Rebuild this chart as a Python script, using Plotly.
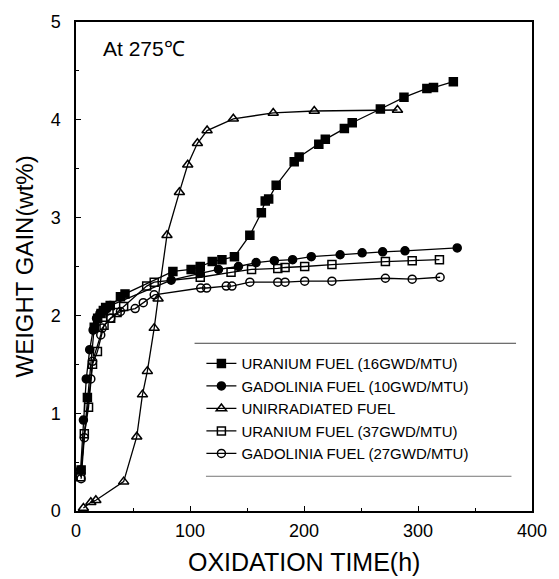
import plotly.graph_objects as go

# Oxidation time (h) and weight gain (wt%) for each fuel sample at 275 °C
u16_time = [4.5, 10, 16, 19, 22, 24, 26, 30, 39, 43, 85, 101, 109, 119.5, 128, 139,
            152.5, 162.6, 166, 169, 175.6, 191.4, 195.7, 213, 218.7, 235.4, 242.3,
            267, 287.7, 307.8, 313.6, 331]
u16_gain = [0.42, 1.16, 1.88, 1.97, 2.02, 2.05, 2.08, 2.10, 2.19, 2.22, 2.45, 2.47,
            2.50, 2.55, 2.57, 2.60, 2.82, 3.05, 3.17, 3.19, 3.33, 3.57, 3.62, 3.75,
            3.80, 3.91, 3.97, 4.11, 4.23, 4.32, 4.33, 4.39]

gd10_time = [4, 6.5, 9, 12, 15, 18, 21, 24, 27, 30, 83.5, 109, 125, 142.5, 158, 174,
             190, 206.4, 231.7, 251, 269, 288.6, 334.4]
gd10_gain = [0.42, 0.93, 1.35, 1.65, 1.85, 1.97, 2.02, 2.05, 2.07, 2.10, 2.36, 2.43,
             2.47, 2.50, 2.54, 2.56, 2.57, 2.60, 2.62, 2.64, 2.65, 2.66, 2.69]

unirr_time = [6.5, 13, 17.4, 41.8, 53.3, 58.3, 62.6, 68.6, 72, 79.8, 90.7, 98, 106.5,
              115, 138, 173, 209, 282]
unirr_gain = [0.03, 0.09, 0.11, 0.30, 0.76, 1.19, 1.43, 1.87, 2.17, 2.82, 3.26, 3.54,
              3.76, 3.89, 4.01, 4.07, 4.09, 4.10]

u37_time = [4, 7.3, 11, 14.5, 18.8, 24.6, 30.4, 36, 41.8, 62, 68.6, 109, 136, 154,
            177, 183.4, 200.6, 224.5, 271.4, 294.9, 318.8]
u37_gain = [0.35, 0.79, 1.06, 1.50, 1.63, 1.90, 1.97, 2.03, 2.09, 2.30, 2.34, 2.39,
            2.44, 2.47, 2.48, 2.49, 2.50, 2.52, 2.55, 2.56, 2.57]

gd27_time = [4.5, 7.3, 13, 14.5, 21.7, 23, 30.4, 39, 51.9, 59, 68.6, 109.4, 114.6,
             131.8, 136.8, 152.5, 177, 183.4, 200.6, 224.5, 271.4, 294.9, 319.4]
gd27_gain = [0.33, 0.75, 1.35, 1.53, 1.80, 1.87, 1.97, 2.04, 2.07, 2.13, 2.21, 2.28,
             2.28, 2.30, 2.30, 2.34, 2.34, 2.34, 2.35, 2.35, 2.38, 2.37, 2.39]

series = [
    ("URANIUM FUEL (16GWD/MTU)", u16_time, u16_gain, "square", 8),
    ("GADOLINIA FUEL (10GWD/MTU)", gd10_time, gd10_gain, "circle", 8),
    ("UNIRRADIATED FUEL", unirr_time, unirr_gain, "triangle-up-open", 9),
    ("URANIUM FUEL (37GWD/MTU)", u37_time, u37_gain, "square-open", 8),
    ("GADOLINIA FUEL (27GWD/MTU)", gd27_time, gd27_gain, "circle-open", 8),
]

fig = go.Figure()
for name, t, g, sym, size in series:
    fig.add_trace(go.Scatter(
        x=t, y=g, name=name, mode="lines+markers",
        line=dict(color="black", width=1.3),
        marker=dict(symbol=sym, size=size, color="black",
                    line=dict(color="black", width=1.5)),
    ))

font_family = "Liberation Sans, Arial, sans-serif"

fig.update_layout(
    width=559, height=579,
    margin=dict(l=76, r=18, t=18, b=68),
    paper_bgcolor="white", plot_bgcolor="white",
    font=dict(family=font_family, color="black", size=18),
    showlegend=True,
    legend=dict(
        x=0.275, y=0.335, xanchor="left", yanchor="top",
        bgcolor="rgba(0,0,0,0)", borderwidth=0,
        font=dict(size=15, family=font_family, color="black"),
        itemwidth=30,
    ),
    xaxis=dict(
        range=[0, 400], dtick=100, tick0=0,
        showgrid=False, zeroline=False,
        showline=True, linecolor="black", linewidth=1.5, mirror=True,
        ticks="inside", ticklen=5, tickwidth=1.2, tickcolor="black",
        minor=dict(dtick=50, ticks="inside", ticklen=3, tickcolor="black"),
        tickfont=dict(size=18),
        ticklabelstandoff=3,
    ),
    yaxis=dict(
        range=[0, 5], dtick=1, tick0=0,
        showgrid=False, zeroline=False,
        showline=True, linecolor="black", linewidth=1.5, mirror=True,
        ticks="inside", ticklen=5, tickwidth=1.2, tickcolor="black",
        minor=dict(dtick=0.5, ticks="inside", ticklen=3, tickcolor="black"),
        tickfont=dict(size=18),
        ticklabelstandoff=10,
    ),
    annotations=[
        dict(text="OXIDATION TIME(h)", xref="paper", yref="paper",
             x=0.5, y=-0.105, xanchor="center", yanchor="middle",
             showarrow=False, font=dict(size=25)),
        dict(text="WEIGHT GAIN(wt%)", xref="paper", yref="paper",
             x=-0.114, y=0.5, xanchor="center", yanchor="middle",
             textangle=-90, showarrow=False, font=dict(size=24)),
        dict(text="At 275℃", xref="paper", yref="paper",
             x=0.055, y=0.945, xanchor="left", yanchor="middle",
             showarrow=False, font=dict(size=21)),
    ],
    shapes=[
        # thin rules above and below the legend
        dict(type="line", xref="paper", yref="paper",
             x0=0.26, x1=0.965, y0=0.343, y1=0.343,
             line=dict(color="#444", width=1)),
        dict(type="line", xref="paper", yref="paper",
             x0=0.285, x1=0.955, y0=0.071, y1=0.071,
             line=dict(color="#777", width=1)),
    ],
)

fig.write_html("out.html")
